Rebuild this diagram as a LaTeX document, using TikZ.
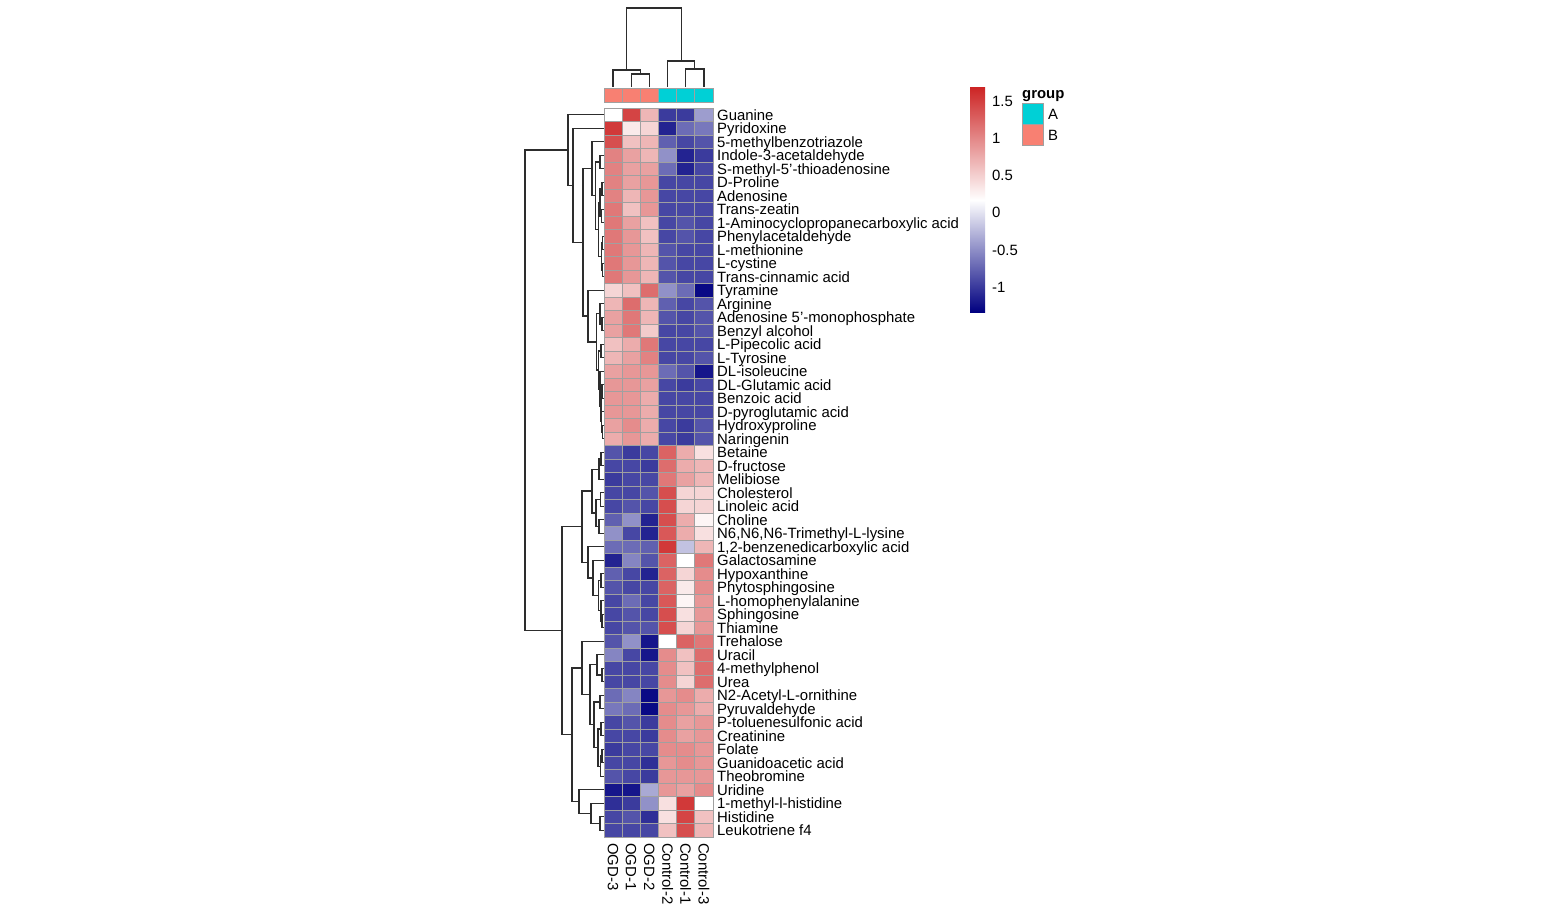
\documentclass[tikz,border=0pt]{standalone}
\usepackage{fontspec}
\setmainfont{Liberation Sans}
\usetikzlibrary{calc}
\definecolor{navyc}{RGB}{0,0,128}
\definecolor{firec}{RGB}{205,38,38}
\definecolor{gridc}{RGB}{160,160,160}
\definecolor{dendc}{RGB}{45,45,45}
\definecolor{grpA}{RGB}{0,208,214}
\definecolor{grpB}{RGB}{248,128,114}
\newcommand\dmh[4]{%
  \path let \p1=(#2), \p2=(#3) in ({#4pt},{0.5*\y1+0.5*\y2}) coordinate (#1);
  \draw[dend] let \p1=(#2), \p2=(#3) in (\x1,\y1) -- (#4pt,\y1) -- (#4pt,\y2) -- (\x2,\y2);}
\newcommand\dmv[4]{%
  \path let \p1=(#2), \p2=(#3) in ({0.5*\x1+0.5*\x2},{-#4pt}) coordinate (#1);
  \draw[dend] let \p1=(#2), \p2=(#3) in (\x1,\y1) -- (\x1,-#4pt) -- (\x2,-#4pt) -- (\x2,\y2);}
\def\rowdata{%
Guanine/{0,9,3.5,-8,-8,-4},
Pyridoxine/{9.5,1,2,-9,-6,-5.5},
5-methylbenzotriazole/{8.5,3,3.5,-6.5,-7.5,-7},
Indole-3-acetaldehyde/{6,4.5,3.5,-4.5,-9,-8},
S-methyl-5'-thioadenosine/{6,4.5,4.5,-6,-9,-7.5},
D-Proline/{6,4.5,5,-7.5,-7.5,-7.5},
Adenosine/{6,3.5,5,-7.5,-7.5,-7.5},
Trans-zeatin/{6.5,3,5,-7.5,-7.5,-7.5},
1-Aminocyclopropanecarboxylic acid/{6.5,4.5,3,-7.5,-7,-7.5},
Phenylacetaldehyde/{6.5,5,3,-7.5,-7,-7.5},
L-methionine/{6.5,5,3.5,-7,-7.5,-7.5},
L-cystine/{6.5,5,3.5,-7,-7.5,-7.5},
Trans-cinnamic acid/{6.5,5,3.5,-7,-7.5,-7.5},
Tyramine/{2,3,7,-4.5,-6,-10},
Arginine/{3.5,7,3.5,-6.5,-7.5,-7},
Adenosine 5'-monophosphate/{4.5,6.5,3.5,-7,-7.5,-7},
Benzyl alcohol/{4.5,6.5,2.5,-7.5,-7.5,-7},
L-Pipecolic acid/{3,4,6.5,-7.5,-7.5,-7.5},
L-Tyrosine/{3.5,4.5,6,-7.5,-7.5,-7},
DL-isoleucine/{4.5,5,5,-6,-7,-9.5},
DL-Glutamic acid/{5,5,4.5,-7.5,-8,-7.5},
Benzoic acid/{5,5,4,-7.5,-7.5,-7.5},
D-pyroglutamic acid/{5,5,4,-7.5,-7.5,-7.5},
Hydroxyproline/{4.5,5.5,4,-7.5,-8,-7},
Naringenin/{4,5,4,-7.5,-8,-7},
Betaine/{-7,-8,-7.5,7.5,4,1.5},
D-fructose/{-7.5,-7.5,-8,7,4,3.5},
Melibiose/{-8,-7.5,-7.5,6.5,4.5,3.5},
Cholesterol/{-7.5,-7.5,-7,8.5,2,2},
Linoleic acid/{-7.5,-7,-7.5,8.5,2,2},
Choline/{-6.5,-4.5,-9,8.5,4,0.5},
{N6,N6,N6-Trimethyl-L-lysine}/{-4.5,-7.5,-9,8,4,1.5},
{1,2-benzenedicarboxylic acid}/{-6,-6,-6.5,9.5,-2.5,3.5},
Galactosamine/{-9,-5,-7,7.5,0,6.5},
Hypoxanthine/{-6.5,-7.5,-9,7.5,2,5.5},
Phytosphingosine/{-7,-7.5,-7.5,7.5,1,5.5},
L-homophenylalanine/{-7.5,-6,-7.5,8,0.5,5},
Sphingosine/{-7.5,-7,-7.5,8.5,1.5,5},
Thiamine/{-7.5,-7,-7,8.5,2,5},
Trehalose/{-7,-4.5,-9.5,0,7.5,6.5},
Uracil/{-5,-7.5,-9.5,5.5,3,7},
4-methylphenol/{-7.5,-7.5,-7.5,5.5,3,7},
Urea/{-7.5,-7.5,-7.5,5.5,2,7},
N2-Acetyl-L-ornithine/{-6,-5,-10,5,5.5,4},
Pyruvaldehyde/{-5.5,-6,-10,5.5,5,4},
P-toluenesulfonic acid/{-7.5,-7,-8,5.5,4.5,5},
Creatinine/{-7.5,-7.5,-8,5.5,4.5,5},
Folate/{-8,-7.5,-7.5,5.5,5.5,5},
Guanidoacetic acid/{-7.5,-7.5,-8.5,5,5.5,5},
Theobromine/{-7,-7.5,-8,5,5,5},
Uridine/{-9.5,-9.5,-3.5,5,4.5,5.5},
1-methyl-l-histidine/{-8.5,-8,-4.5,1.5,9.5,0},
Histidine/{-7.5,-7,-8.5,1.5,9,3},
Leukotriene f4/{-7.5,-7.5,-7.5,3,8.5,3.5}}
\begin{document}
\begin{tikzpicture}[x=1pt,y=-1pt,
  lbl/.style={font=\fontsize{14.9}{17}\selectfont, inner sep=0pt, anchor=base west},
  dend/.style={draw=dendc, line width=1.2pt},
  cellb/.style={draw=gridc, line width=0.7pt}]
\useasboundingbox[fill=white] (0,0) rectangle (1558,912);
% heatmap
\foreach \nm/\vals [count=\i] in \rowdata {
  \node[lbl] (lab\i) at (717,{101.25+13.5*\i+5.3}) {\nm};
  \foreach \v [count=\j] in \vals {
    \pgfmathsetmacro\pc{abs(\v)*9.6}
    \ifdim \v pt<0pt \colorlet{cc}{navyc!\pc!white}\else\colorlet{cc}{firec!\pc!white}\fi
    \filldraw[cellb, fill=cc] ({604+18.1667*(\j-1)},{108+13.5*(\i-1)}) rectangle ({604+18.1667*\j},{108+13.5*\i});
  }
}
% annotation bar
\foreach \g [count=\j] in {grpB,grpB,grpB,grpA,grpA,grpA}
  \filldraw[cellb, fill=\g] ({604+18.1667*(\j-1)},88) rectangle ({604+18.1667*\j},102);
% column labels
\foreach \cl [count=\j] in {OGD-3,OGD-1,OGD-2,Control-2,Control-1,Control-3}
  \node[lbl, rotate=-90] (col\j) at ({604+18.1667*(\j-0.5)-5.3},843) {\cl};
% leaves
\foreach \i in {1,...,54} \coordinate (r\i) at (604,{101.25+13.5*\i});
\foreach \j in {1,...,6} \coordinate (c\j) at ({604+18.1667*(\j-0.5)},87);
% column dendrogram
\dmv{o12}{c2}{c3}{74}
\dmv{ogd}{c1}{o12}{70}
\dmv{k13}{c5}{c6}{69}
\dmv{ctl}{c4}{k13}{61}
\dmv{croot}{ogd}{ctl}{8}
% row dendrogram top
\dmh{a3}{r4}{r5}{600}
\dmh{p67}{r6}{r7}{602}
\dmh{p89}{r8}{r9}{601.5}
\dmh{a5}{p67}{p89}{600}
\dmh{p1011}{r10}{r11}{602.5}
\dmh{p1213}{r12}{r13}{602.5}
\dmh{a6}{p1011}{p1213}{601.5}
\dmh{a4}{a5}{a6}{598.5}
\dmh{a2}{a3}{a4}{595.5}
\dmh{aa}{r3}{a2}{592}
\dmh{p1617}{r16}{r17}{602}
\dmh{b3}{r15}{p1617}{600}
\dmh{b5}{r18}{r19}{601}
\dmh{p2122}{r21}{r22}{602}
\dmh{p2425}{r24}{r25}{602.5}
\dmh{p2325}{r23}{p2425}{601.5}
\dmh{p2125}{p2122}{p2325}{601}
\dmh{b6}{r20}{p2125}{600}
\dmh{b4}{b5}{b6}{598.5}
\dmh{b2}{b3}{b4}{596.5}
\dmh{bb}{r14}{b2}{588}
\dmh{t3}{aa}{bb}{583}
\dmh{t2}{r2}{t3}{573}
\dmh{top}{r1}{t2}{568}
% row dendrogram bottom
\dmh{p2627}{r26}{r27}{601}
\dmh{c1a}{p2627}{r28}{599}
\dmh{p2930}{r29}{r30}{600.5}
\dmh{p3132}{r31}{r32}{599}
\dmh{c1b}{p2930}{p3132}{596}
\dmh{cl1}{c1a}{c1b}{592}
\dmh{p3536}{r35}{r36}{601}
\dmh{p3839}{r38}{r39}{602}
\dmh{p3739}{r37}{p3839}{601}
\dmh{c2c}{p3536}{p3739}{598.5}
\dmh{c2b}{r34}{c2c}{593}
\dmh{cl2}{r33}{c2b}{588}
\dmh{ccl}{cl1}{cl2}{582}
\dmh{p4243}{r42}{r43}{602}
\dmh{d1c}{r41}{p4243}{597}
\dmh{d1e}{r44}{r45}{600}
\dmh{p4647}{r46}{r47}{601}
\dmh{p4849}{r48}{r49}{602}
\dmh{p4850}{p4849}{r50}{600.5}
\dmh{d1f}{p4647}{p4850}{598}
\dmh{d1d}{d1e}{d1f}{594}
\dmh{d1b}{d1c}{d1d}{590}
\dmh{d1}{r40}{d1b}{582}
\dmh{p5354}{r53}{r54}{600}
\dmh{d2b}{r52}{p5354}{591}
\dmh{d2}{r51}{d2b}{579}
\dmh{dd}{d1}{d2}{572}
\dmh{bot}{ccl}{dd}{562}
\dmh{rroot}{top}{bot}{525}
% colour legend
\shade[top color=firec, bottom color=navyc, middle color=white] (970,88) rectangle (985,312);
\foreach \t/\yy [count=\k] in {1.5/101,1/138,0.5/175,0/212,-0.5/250,-1/287}
  \node[lbl] (tick\k) at (992,\yy+5.3) {\t};
% group legend
\node[lbl, font=\fontsize{14.9}{17}\selectfont\bfseries] (grp) at (1022,98.3) {group};
\filldraw[cellb, fill=grpA] (1022,103) rectangle (1043,124);
\filldraw[cellb, fill=grpB] (1022,124) rectangle (1043,145);
\node[lbl] (gA) at (1048,119.3) {A};
\node[lbl] (gB) at (1048,140.3) {B};
\end{tikzpicture}
\end{document}
